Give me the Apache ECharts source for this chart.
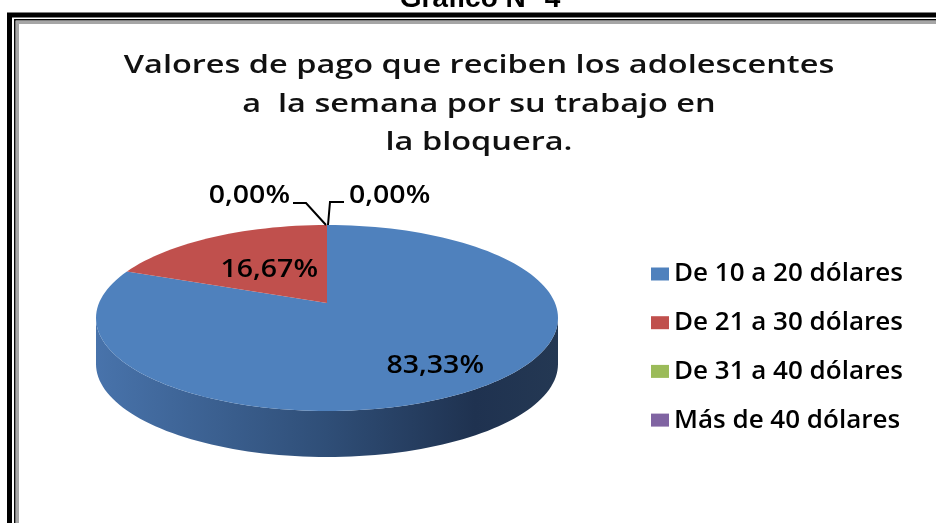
<!DOCTYPE html>
<html>
<head>
<meta charset="utf-8">
<script src="https://cdn.jsdelivr.net/npm/echarts@6/dist/echarts.min.js"></script>
<style>
  html, body { margin: 0; padding: 0; background: #fff; }
  #chart { width: 936px; height: 523px; }
</style>
</head>
<body>
<div id="chart"></div>
<script>
// 数据
const categories = ["De 10 a 20 dólares", "De 21 a 30 dólares", "De 31 a 40 dólares", "Más de 40 dólares"];
const values = [83.33, 16.67, 0, 0];
const labels = ["83,33%", "16,67%", "0,00%", "0,00%"];

const COLORS = ["#4f81bd", "#c0504d", "#9bbb59", "#8064a2"];
const FONT = "'Open Sans', 'Noto Sans', sans-serif";

// 伪 3D 饼图的几何参数（坐标轴单位 = 像素）
const PIE = { cx: 327, cy: 318, rx: 231, ry: 93, apexY: 303, depth: 46 };

// 每块扇区的起止角度：12 点钟方向起，顺时针
const total = values.reduce((a, b) => a + b, 0);
const angles = [];
let acc = 0;
for (const v of values) {
  const a0 = (acc / total) * 360;
  acc += v;
  angles.push([a0, (acc / total) * 360]);
}

function rimPoint(api, deg, drop) {
  const r = (deg * Math.PI) / 180;
  return api.coord([PIE.cx + PIE.rx * Math.sin(r), PIE.cy - PIE.ry * Math.cos(r) + (drop || 0)]);
}

function arcPoints(api, a0, a1, drop) {
  const pts = [];
  const n = Math.max(2, Math.ceil((a1 - a0) / 2));
  for (let k = 0; k <= n; k++) pts.push(rimPoint(api, a0 + ((a1 - a0) * k) / n, drop));
  return pts;
}

// 前侧面（只画 90°~270° 可见部分）
function renderSide(params, api) {
  const children = [];
  angles.forEach(([a0, a1], i) => {
    const s = Math.max(a0, 90), e = Math.min(a1, 270);
    if (e <= s) return;
    const top = arcPoints(api, s, e, 0);
    const bottom = arcPoints(api, s, e, PIE.depth).reverse();
    children.push({
      type: "polygon",
      shape: { points: top.concat(bottom) },
      style: {
        fill: i === 0
          ? new echarts.graphic.LinearGradient(0, 0, 1, 0, [
              { offset: 0, color: "#4873ab" },
              { offset: 0.5, color: "#2f4e77" },
              { offset: 0.82, color: "#1f3250" },
              { offset: 1, color: "#243853" },
            ])
          : COLORS[i],
      },
    });
  });
  return { type: "group", children };
}

// 顶面 + 标签
function makeTopRender(i) {
  return function (params, api) {
    const [a0, a1] = angles[i];
    const apex = api.coord([PIE.cx, PIE.apexY]);
    const children = [];
    const textStyle = { font: `600 25px ${FONT}`, fill: "#000" };
    if (a1 - a0 > 0.01) {
      children.push({
        type: "polygon",
        shape: { points: [apex].concat(arcPoints(api, a0, a1, 0)) },
        style: { fill: COLORS[i] },
      });
      const mid = rimPoint(api, (a0 + a1) / 2, 0);
      const f = i === 0 ? 0.66 : 0.5;
      const dx = i === 0 ? 32 : 0;
      children.push({
        type: "text",
        x: apex[0] + (mid[0] - apex[0]) * f + dx,
        y: apex[1] + (mid[1] - apex[1]) * f,
        scaleX: 1.14,
        style: Object.assign({ text: labels[i], align: "center", verticalAlign: "middle" }, textStyle),
      });
    } else {
      // 0% 扇区：引导线 + 外部标签
      const t = rimPoint(api, a0, 0);
      const left = i === 2;
      const pts = left
        ? [[t[0] - 1, t[1]], [t[0] - 21, t[1] - 22], [t[0] - 34, t[1] - 22]]
        : [[t[0] + 1, t[1]], [t[0] + 3, t[1] - 23], [t[0] + 17, t[1] - 23]];
      children.push({
        type: "polyline",
        shape: { points: pts },
        style: { stroke: "#000", lineWidth: 2, fill: null },
      });
      children.push({
        type: "text",
        x: left ? t[0] - 37 : t[0] + 22,
        y: t[1] - 29,
        scaleX: 1.14,
        style: Object.assign({ text: labels[i], align: left ? "right" : "left", verticalAlign: "middle" }, textStyle),
      });
    }
    return { type: "group", children };
  };
}

const series = [
  {
    name: "side",
    type: "custom",
    renderItem: renderSide,
    data: [0],
    z: 1,
    silent: true,
  },
];
categories.forEach((name, i) => {
  series.push({
    name,
    type: "custom",
    renderItem: makeTopRender(i),
    itemStyle: { color: COLORS[i] },
    data: [values[i]],
    z: 2,
  });
});

const chart = echarts.init(document.getElementById("chart"), null, { renderer: "canvas" });
chart.setOption({
  animation: false,
  backgroundColor: "#fff",
  legend: {
    data: categories,
    orient: "vertical",
    left: 651,
    top: 261,
    padding: 0,
    icon: "rect",
    itemWidth: 18,
    itemHeight: 13,
    itemGap: 22.7,
    textStyle: { fontFamily: FONT, fontWeight: 600, fontSize: 26, lineHeight: 24, color: "#000" },
  },
  grid: { left: 0, right: 0, top: 0, bottom: 0 },
  xAxis: { type: "value", min: 0, max: 936, show: false },
  yAxis: { type: "value", min: 0, max: 523, inverse: true, show: false },
  graphic: [
    {
      type: "text",
      x: 480,
      y: -1,
      style: { text: "Gráfico N° 4", font: "bold 28px 'Liberation Sans', Arial, sans-serif", fill: "#000", align: "center", verticalAlign: "middle" },
    },
    {
      type: "text",
      x: 479,
      y: 47,
      scaleX: 1.3,
      style: {
        text: "Valores de pago que reciben los adolescentes\na  la semana por su trabajo en\nla bloquera.",
        font: `600 25px ${FONT}`,
        lineHeight: 38.5,
        fill: "#111",
        align: "center",
        verticalAlign: "top",
      },
    },
    { type: "polyline", shape: { points: [[9.5, 540], [9.5, 15], [940, 15]] }, style: { fill: null, stroke: "#000", lineWidth: 5 } },
    { type: "polyline", shape: { points: [[14.8, 540], [14.8, 19.8], [940, 19.8]] }, style: { fill: null, stroke: "#000", lineWidth: 1.5 } },
    { type: "polyline", shape: { points: [[17.5, 540], [17.5, 22.5], [940, 22.5]] }, style: { fill: null, stroke: "#a6a6a6", lineWidth: 3 } },
  ],
  series,
});

window.addEventListener("resize", () => chart.resize());
</script>
</body>
</html>
